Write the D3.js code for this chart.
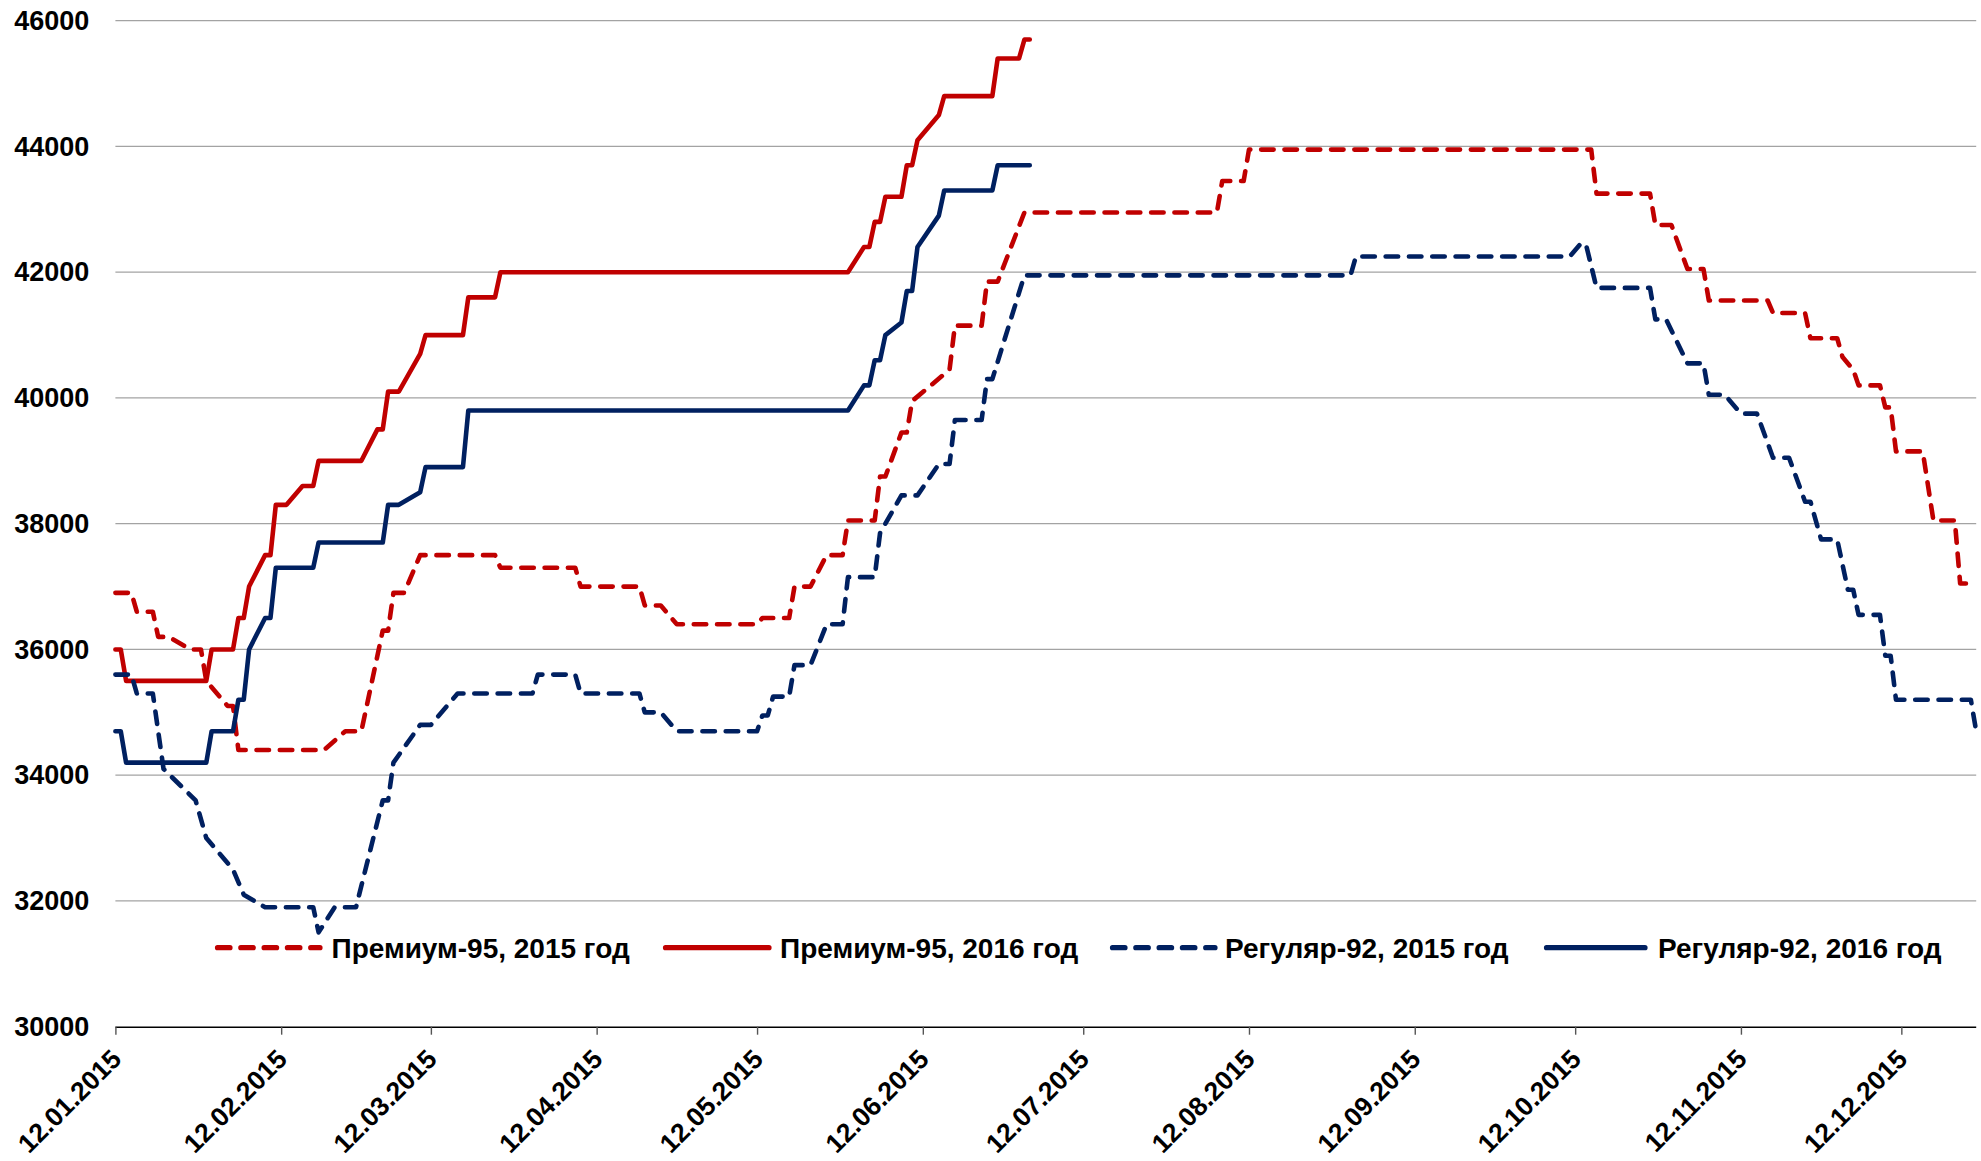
<!DOCTYPE html>
<html>
<head>
<meta charset="utf-8">
<script src="https://cdn.jsdelivr.net/npm/d3@7"></script>
<style>
  html, body { margin: 0; padding: 0; background: #ffffff; }
  svg { display: block; }
  text { font-family: "Liberation Sans", Arial, sans-serif; font-weight: bold; fill: #000; }
</style>
</head>
<body>
<svg id="chart" width="1981" height="1161"></svg>
<script>
// ---------------- DATA ----------------
const seriesNames = ["Премиум-95, 2015 год", "Премиум-95, 2016 год", "Регуляр-92, 2015 год", "Регуляр-92, 2016 год"];

const premium2015Dates = ["2015-01-12","2015-01-15","2015-01-16","2015-01-19","2015-01-20","2015-01-22","2015-01-26","2015-01-28","2015-01-29","2015-02-02","2015-02-03","2015-02-04","2015-02-20","2015-02-24","2015-02-27","2015-03-03","2015-03-04","2015-03-05","2015-03-07","2015-03-10","2015-03-24","2015-03-25","2015-04-08","2015-04-09","2015-04-20","2015-04-21","2015-04-24","2015-04-27","2015-05-12","2015-05-13","2015-05-18","2015-05-19","2015-05-22","2015-05-25","2015-05-28","2015-05-29","2015-06-03","2015-06-04","2015-06-05","2015-06-08","2015-06-09","2015-06-10","2015-06-17","2015-06-18","2015-06-23","2015-06-24","2015-06-26","2015-07-01","2015-08-06","2015-08-07","2015-08-11","2015-08-12","2015-10-15","2015-10-16","2015-10-26","2015-10-27","2015-10-30","2015-11-02","2015-11-05","2015-11-06","2015-11-17","2015-11-18","2015-11-24","2015-11-25","2015-11-30","2015-12-01","2015-12-03","2015-12-04","2015-12-08","2015-12-09","2015-12-10","2015-12-11","2015-12-16","2015-12-18","2015-12-22","2015-12-23","2015-12-26"];
const premium2015Values = [36900,36900,36600,36600,36200,36200,36000,36000,35500,35100,35100,34400,34400,34700,34700,36300,36300,36900,36900,37500,37500,37300,37300,37000,37000,36700,36700,36400,36400,36500,36500,37000,37000,37500,37500,38050,38050,38750,38750,39450,39450,39950,40450,41150,41150,41850,41850,42950,42950,43450,43450,43950,43950,43250,43250,42750,42750,42050,42050,41550,41550,41350,41350,40950,40950,40650,40450,40200,40200,39850,39850,39150,39150,38050,38050,37050,37050];

const premium2016Dates = ["2015-01-12","2015-01-13","2015-01-14","2015-01-29","2015-01-30","2015-02-03","2015-02-04","2015-02-05","2015-02-06","2015-02-09","2015-02-10","2015-02-11","2015-02-13","2015-02-16","2015-02-18","2015-02-19","2015-02-27","2015-03-02","2015-03-03","2015-03-04","2015-03-06","2015-03-10","2015-03-11","2015-03-18","2015-03-19","2015-03-24","2015-03-25","2015-05-29","2015-06-01","2015-06-02","2015-06-03","2015-06-04","2015-06-05","2015-06-08","2015-06-09","2015-06-10","2015-06-11","2015-06-15","2015-06-16","2015-06-25","2015-06-26","2015-06-30","2015-07-01","2015-07-02"];
const premium2016Values = [36000,36000,35500,35500,36000,36000,36500,36500,37000,37500,37500,38300,38300,38600,38600,39000,39000,39500,39500,40100,40100,40700,41000,41000,41600,41600,42000,42000,42400,42400,42800,42800,43200,43200,43700,43700,44100,44500,44800,44800,45400,45400,45700,45700];

const regular2015Dates = ["2015-01-12","2015-01-15","2015-01-16","2015-01-19","2015-01-21","2015-01-27","2015-01-29","2015-02-03","2015-02-05","2015-02-09","2015-02-18","2015-02-19","2015-02-22","2015-02-26","2015-03-03","2015-03-04","2015-03-05","2015-03-10","2015-03-12","2015-03-17","2015-03-31","2015-04-01","2015-04-08","2015-04-09","2015-04-20","2015-04-21","2015-04-24","2015-04-27","2015-05-12","2015-05-13","2015-05-14","2015-05-15","2015-05-18","2015-05-19","2015-05-22","2015-05-25","2015-05-28","2015-05-29","2015-06-03","2015-06-04","2015-06-08","2015-06-11","2015-06-15","2015-06-17","2015-06-18","2015-06-23","2015-06-24","2015-06-25","2015-07-01","2015-08-31","2015-09-01","2015-10-11","2015-10-13","2015-10-14","2015-10-16","2015-10-26","2015-10-27","2015-10-29","2015-11-02","2015-11-05","2015-11-06","2015-11-09","2015-11-12","2015-11-15","2015-11-18","2015-11-21","2015-11-24","2015-11-25","2015-11-27","2015-11-30","2015-12-02","2015-12-03","2015-12-04","2015-12-08","2015-12-09","2015-12-10","2015-12-11","2015-12-25","2015-12-26"];
const regular2015Values = [35600,35600,35300,35300,34100,33600,33000,32500,32100,31900,31900,31500,31900,31900,33600,33600,34200,34800,34800,35300,35300,35600,35600,35300,35300,35000,35000,34700,34700,34950,34950,35250,35250,35750,35750,36400,36400,37150,37150,37850,38450,38450,38950,38950,39650,39650,40300,40300,41950,41950,42250,42250,42450,42450,41750,41750,41250,41250,40550,40550,40050,40050,39750,39750,39050,39050,38350,38350,37750,37750,36950,36950,36550,36550,35900,35900,35200,35200,34700];

const regular2016Dates = ["2015-01-12","2015-01-13","2015-01-14","2015-01-29","2015-01-30","2015-02-03","2015-02-04","2015-02-05","2015-02-06","2015-02-09","2015-02-10","2015-02-11","2015-02-18","2015-02-19","2015-03-03","2015-03-04","2015-03-06","2015-03-10","2015-03-11","2015-03-18","2015-03-19","2015-05-29","2015-06-01","2015-06-02","2015-06-03","2015-06-04","2015-06-05","2015-06-08","2015-06-09","2015-06-10","2015-06-11","2015-06-15","2015-06-16","2015-06-25","2015-06-26","2015-07-02"];
const regular2016Values = [34700,34700,34200,34200,34700,34700,35200,35200,36000,36500,36500,37300,37300,37700,37700,38300,38300,38500,38900,38900,39800,39800,40200,40200,40600,40600,41000,41200,41700,41700,42400,42900,43300,43300,43700,43700];

const xDomainDates = ["2015-01-12", "2015-12-26"];
const xTickDates = ["2015-01-12","2015-02-12","2015-03-12","2015-04-12","2015-05-12","2015-06-12","2015-07-12","2015-08-12","2015-09-12","2015-10-12","2015-11-12","2015-12-12"];
const yTicks = [30000,32000,34000,36000,38000,40000,42000,44000,46000];
const yDomain = [30000, 46000];

// ---------------- LAYOUT ----------------
const parse = d3.utcParse("%Y-%m-%d");
const W = 1981, H = 1161;
const plot = { left: 115.4, right: 1976.2, top: 20.7, bottom: 1026.7 };
const RED = "#C00000", NAVY = "#002060";
const FONT_AXIS = 27, FONT_XLAB = 26.5, FONT_LEG = 28;

const svg = d3.select("#chart");

const x = d3.scaleUtc()
  .domain(xDomainDates.map(parse))
  .range([plot.left, plot.right]);
const y = d3.scaleLinear()
  .domain(yDomain)
  .range([plot.bottom, plot.top]);

// gridlines
svg.append("g")
  .selectAll("line")
  .data(yTicks.filter(v => v !== yDomain[0]))
  .join("line")
  .attr("x1", plot.left).attr("x2", plot.right)
  .attr("y1", d => y(d)).attr("y2", d => y(d))
  .attr("stroke", "#a3a3a3").attr("stroke-width", 1.3);

// y axis labels
const yAxis = svg.append("g")
  .attr("transform", `translate(${plot.left},0)`)
  .call(d3.axisLeft(y).tickValues(yTicks).tickSize(0).tickPadding(26).tickFormat(d3.format("d")));
yAxis.select(".domain").remove();
yAxis.selectAll("text")
  .attr("font-size", FONT_AXIS)
  .attr("font-family", "Liberation Sans, Arial, sans-serif")
  .attr("font-weight", "bold")
  .attr("fill", "#000");

// x axis
const fmt = d3.utcFormat("%d.%m.%Y");
const xAxis = svg.append("g")
  .attr("transform", `translate(0,${plot.bottom})`)
  .call(d3.axisBottom(x).tickValues(xTickDates.map(parse)).tickSize(8).tickSizeOuter(0).tickFormat(fmt));
xAxis.select(".domain").attr("stroke", "#000").attr("stroke-width", 1.6)
  .attr("d", `M${plot.left},0.5H${plot.right}`);
xAxis.selectAll(".tick line").attr("stroke", "#555").attr("stroke-width", 1.4);
xAxis.selectAll(".tick text")
  .attr("font-size", FONT_XLAB)
  .attr("font-family", "Liberation Sans, Arial, sans-serif")
  .attr("font-weight", "bold")
  .attr("fill", "#000")
  .attr("text-anchor", "end")
  .attr("x", 0).attr("y", 0).attr("dy", 0)
  .attr("transform", "translate(7,34) rotate(-45)");

// series
const series = [
  { name: seriesNames[0], dates: premium2015Dates, values: premium2015Values, color: RED, dashed: true },
  { name: seriesNames[1], dates: premium2016Dates, values: premium2016Values, color: RED, dashed: false },
  { name: seriesNames[2], dates: regular2015Dates, values: regular2015Values, color: NAVY, dashed: true },
  { name: seriesNames[3], dates: regular2016Dates, values: regular2016Values, color: NAVY, dashed: false }
];

const line = d3.line()
  .x(d => x(d.date))
  .y(d => y(d.value));

const DASH = "12.5,10.8";
const LW = 4.6;

svg.append("g")
  .selectAll("path")
  .data(series)
  .join("path")
  .attr("d", s => line(s.dates.map((dt, i) => ({ date: parse(dt), value: s.values[i] }))))
  .attr("fill", "none")
  .attr("stroke", s => s.color)
  .attr("stroke-width", LW)
  .attr("stroke-linejoin", "round")
  .attr("stroke-linecap", "round")
  .attr("stroke-dasharray", s => s.dashed ? DASH : null);

// legend
const legendItems = [
  { x1: 217.5, x2: 320, tx: 331.5 },
  { x1: 665.5, x2: 769, tx: 780 },
  { x1: 1112.5, x2: 1215, tx: 1225 },
  { x1: 1546.5, x2: 1645, tx: 1658 }
];
const legY = 947.7;
const leg = svg.append("g");
series.forEach((s, i) => {
  const it = legendItems[i];
  leg.append("line")
    .attr("x1", it.x1).attr("x2", it.x2)
    .attr("y1", legY).attr("y2", legY)
    .attr("stroke", s.color)
    .attr("stroke-width", LW + 0.6)
    .attr("stroke-linecap", "round")
    .attr("stroke-dasharray", s.dashed ? DASH : null);
  leg.append("text")
    .attr("x", it.tx).attr("y", legY + 10.5)
    .attr("font-size", FONT_LEG)
    .text(s.name);
});
</script>
</body>
</html>
